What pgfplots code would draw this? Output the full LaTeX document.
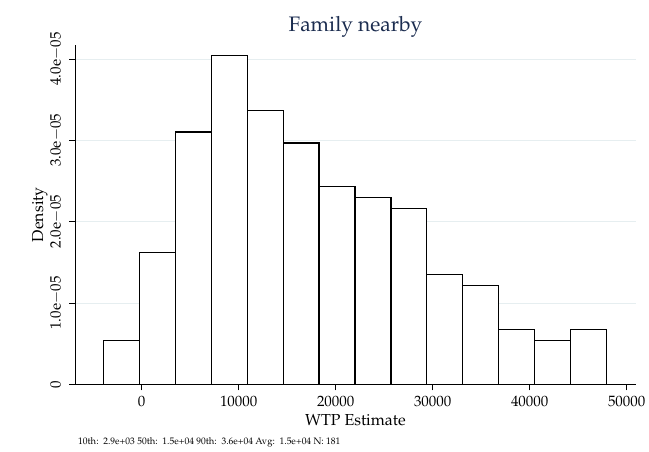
\documentclass[border=0pt]{standalone}
\usepackage[T1]{fontenc}
\usepackage{mathpazo}
\usepackage{pgfplots}
\pgfplotsset{compat=1.18}
\definecolor{titleblue}{RGB}{28,45,80}
\definecolor{gridc}{RGB}{230,238,240}
\begin{document}
\begin{tikzpicture}
\begin{axis}[
  at={(0,0)}, anchor=south west,
  scale only axis, width=561bp, height=339.3bp,
  xmin=-6876, xmax=50959, ymin=0, ymax=4.172e-5,
  axis lines=left, axis line style={-, black, line width=0.9bp},
  tick align=outside, major tick length=6bp, tick style={black, line width=0.8bp},
  xtick={0,10000,20000,30000,40000,50000},
  xticklabels={0,10000,20000,30000,40000,50000},
  ytick={0,1e-5,2e-5,3e-5,4e-5},
  yticklabels={0,{1.0e$-$05},{2.0e$-$05},{3.0e$-$05},{4.0e$-$05}},
  scaled x ticks=false, scaled y ticks=false,
  ymajorgrids, major grid style={gridc, line width=0.8bp},
  ticklabel style={font=\fontsize{15}{15}\selectfont},
  xticklabel style={anchor=base, yshift=-16.7bp},
  yticklabel style={anchor=base, xshift=-8.5bp, rotate=90},
  xlabel={WTP Estimate}, ylabel={Density},
  xlabel style={at={(axis description cs:0.5,-0.12)}, anchor=base, font=\fontsize{16}{16}\selectfont},
  ylabel style={at={(axis description cs:-0.057,0.5)}, anchor=base, font=\fontsize{16}{16}\selectfont},
  title={Family nearby},
  title style={at={(axis description cs:0.5,1.0236)}, anchor=base, font=\fontsize{21}{21}\selectfont, color=titleblue},
]
\addplot[ybar interval, fill=white, draw=black, line width=1.1bp] coordinates {
(-3959,5.395e-6) (-252,1.6186e-5) (3455,3.1022e-5) (7162,4.0464e-5)
(10869,3.372e-5) (14576,2.9674e-5) (18283,2.4278e-5) (21990,2.293e-5)
(25697,2.1581e-5) (29404,1.3488e-5) (33111,1.2139e-5) (36818,6.744e-6)
(40525,5.395e-6) (44232,6.744e-6) (47939,6.744e-6)
};
\end{axis}
\node[anchor=base west, font=\fontsize{9.5}{10}\selectfont, inner sep=0pt] at (3bp,-60.2bp)
  {10th:\ \ 2.9e+03 50th:\ \ 1.5e+04 90th:\ \ 3.6e+04 Avg:\ \ 1.5e+04 N: 181};
\pgfresetboundingbox
\path (-75bp,-67.7bp) rectangle (574bp,384.3bp);
\end{tikzpicture}
\end{document}
